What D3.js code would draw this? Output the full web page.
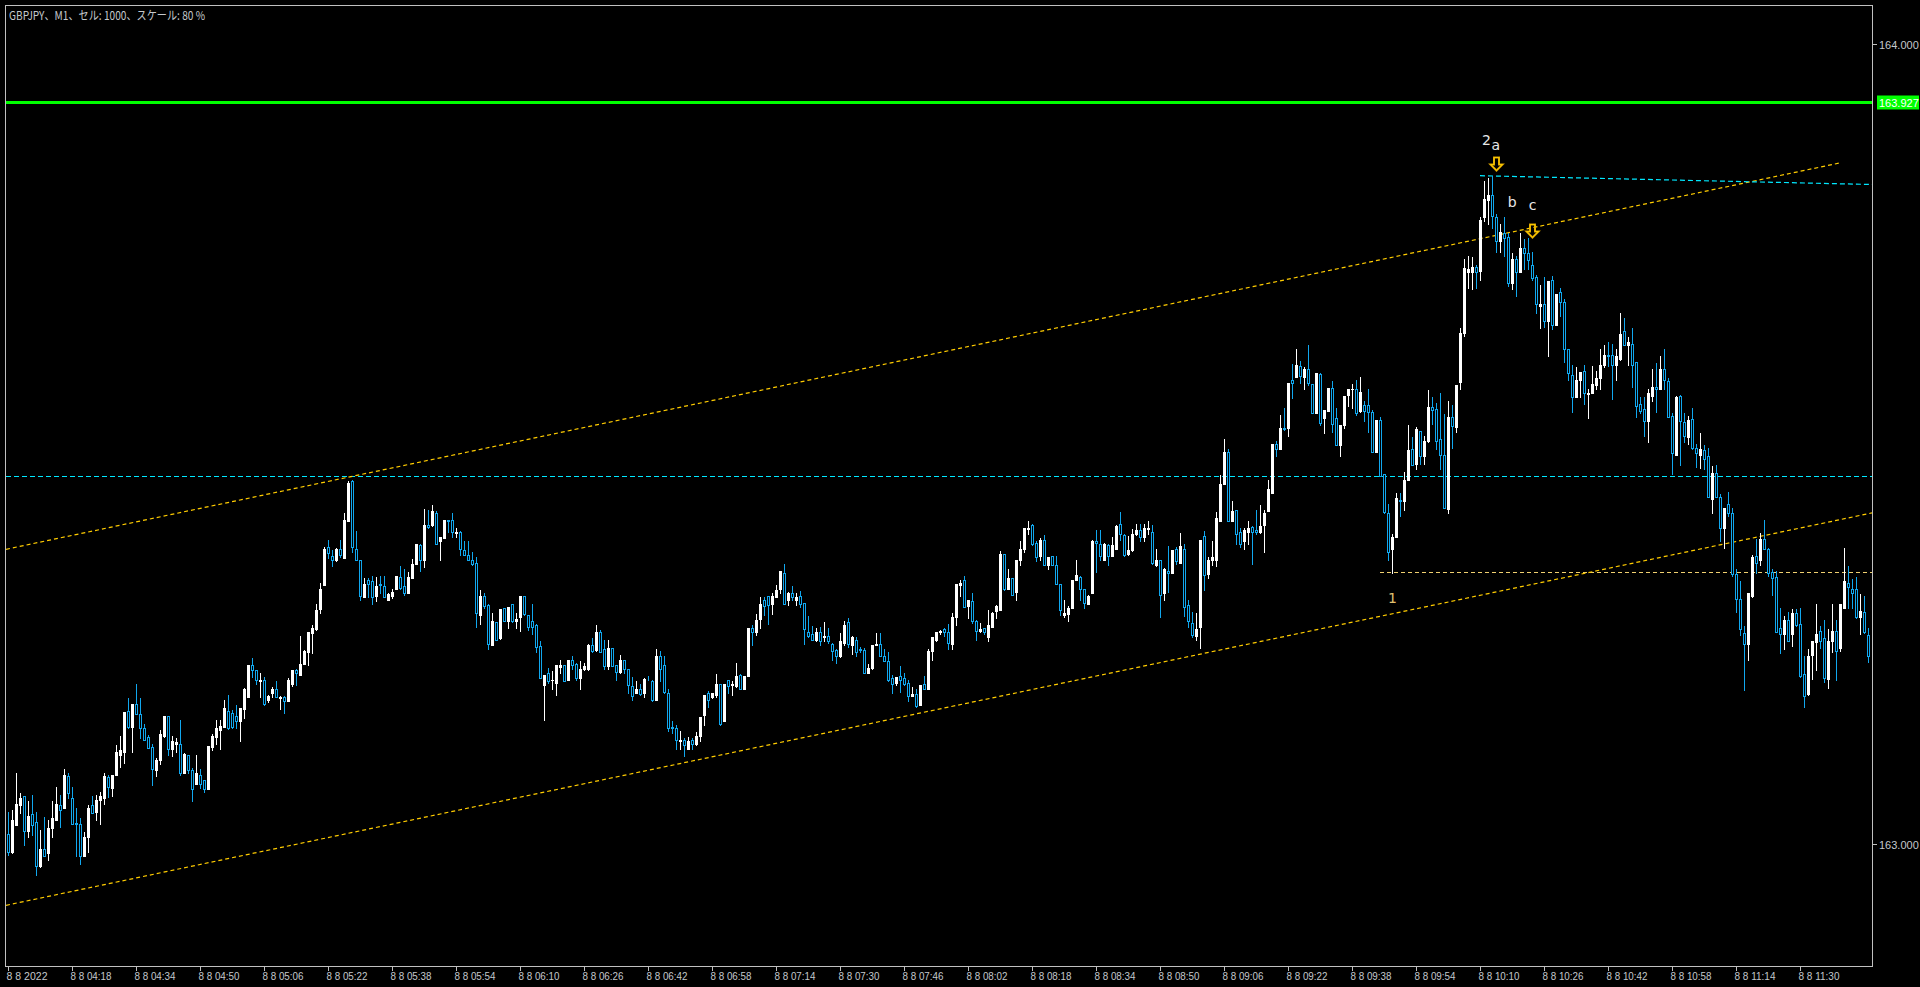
<!DOCTYPE html>
<html><head><meta charset="utf-8">
<script src="https://cdn.jsdelivr.net/npm/d3@7"></script>
<style>
html,body{margin:0;padding:0;background:#000;overflow:hidden;}
svg{display:block;}
</style></head><body>
<svg id="chart" width="1920" height="987"></svg>
<script>
// ---- DATA (GBPJPY M1, 8 Aug 2022, from 04:02, one bar per minute) ----
const opens=[163.012,162.989,163.023,163.048,163.060,163.016,163.037,163.027,162.972,162.993,
162.988,163.019,163.030,163.048,163.044,163.085,163.057,163.026,163.025,162.984,
163.009,163.048,163.040,163.054,163.057,163.083,163.070,163.086,163.111,163.115,
163.166,163.146,163.175,163.162,163.144,163.133,163.121,163.092,163.104,163.135,
163.160,163.118,163.125,163.125,163.088,163.111,163.092,163.075,163.086,163.079,
163.069,163.121,163.133,163.142,163.146,163.166,163.163,163.160,163.153,163.168,
163.184,163.224,163.217,163.203,163.205,163.179,163.189,163.194,163.182,163.184,
163.178,163.200,163.217,163.211,163.225,163.240,163.263,163.268,163.293,163.323,
163.371,163.360,163.354,163.368,163.357,163.404,163.453,163.368,163.354,163.309,
163.330,163.328,163.310,163.325,163.322,163.304,163.310,163.319,163.333,163.322,
163.314,163.332,163.350,163.373,163.354,163.398,163.398,163.413,163.378,163.382,
163.405,163.405,163.388,163.389,163.367,163.361,163.354,163.351,163.286,163.310,
163.298,163.248,163.277,163.257,163.294,163.278,163.300,163.279,163.283,163.310,
163.286,163.278,163.273,163.247,163.198,163.213,163.204,163.201,163.221,163.223,
163.205,163.230,163.225,163.207,163.218,163.218,163.249,163.242,163.265,163.244,
163.222,163.245,163.223,163.215,163.230,163.219,163.197,163.188,163.194,163.188,
163.205,163.203,163.180,163.235,163.223,163.189,163.146,163.144,163.129,163.130,
163.119,163.130,163.125,163.135,163.161,163.188,163.183,163.186,163.200,163.153,
163.205,163.198,163.197,163.211,163.193,163.209,163.270,163.265,163.281,163.305,
163.310,163.300,163.309,163.319,163.339,163.305,163.314,163.305,163.310,163.301,
163.265,163.262,163.255,163.264,163.259,163.260,163.250,163.242,163.234,163.251,
163.277,163.248,163.255,163.244,163.242,163.214,163.220,163.248,163.250,163.234,
163.228,163.207,163.201,163.210,163.207,163.201,163.185,163.187,163.173,163.200,
163.194,163.241,163.255,163.265,163.268,163.265,163.250,163.283,163.323,163.329,
163.297,163.303,163.279,163.266,163.269,163.259,163.271,163.291,163.292,163.362,
163.319,163.332,163.315,163.355,163.369,163.393,163.398,163.376,163.359,163.380,
163.348,163.359,163.348,163.325,163.286,163.287,163.294,163.330,163.333,163.318,
163.300,163.314,163.378,163.375,163.355,163.373,163.360,163.369,163.400,163.386,
163.362,163.367,163.387,163.392,163.383,163.393,163.390,163.348,163.354,163.313,
163.341,163.339,163.368,163.351,163.369,163.298,163.276,163.260,163.271,163.385,
163.337,163.354,163.355,163.404,163.450,163.489,163.404,163.417,163.390,163.379,
163.389,163.396,163.392,163.390,163.398,163.416,163.439,163.500,163.494,163.520,
163.520,163.580,163.583,163.597,163.583,163.594,163.575,163.539,163.587,163.532,
163.541,163.570,163.532,163.498,163.523,163.561,163.568,163.569,163.541,163.548,
163.548,163.540,163.490,163.530,163.462,163.414,163.368,163.383,163.430,163.428,
163.454,163.494,163.475,163.516,163.485,163.503,163.546,163.543,163.506,163.486,
163.418,163.534,163.521,163.577,163.638,163.715,163.715,163.721,163.716,163.783,
163.805,163.811,163.784,163.753,163.763,163.759,163.701,163.731,163.715,163.745,
163.738,163.724,163.708,163.672,163.674,163.654,163.704,163.648,163.690,163.677,
163.619,163.586,163.558,163.579,163.591,163.562,163.564,163.573,163.582,163.598,
163.611,163.611,163.599,163.606,163.641,163.623,163.625,163.602,163.549,163.543,
163.528,163.560,163.571,163.569,163.593,163.578,163.535,163.486,163.560,163.527,
163.509,163.531,163.495,163.486,163.492,163.484,163.431,163.464,163.433,163.394,
163.424,163.414,163.337,163.306,163.263,163.250,163.310,163.360,163.354,163.381,
163.369,163.340,163.333,163.270,163.262,163.280,163.262,163.288,163.275,163.212,
163.187,163.236,163.252,163.266,163.257,163.206,163.254,163.266,163.245,163.294,
163.326,163.318,163.318,163.284,163.290,163.261];
const highs=[163.040,163.042,163.088,163.063,163.060,163.053,163.061,163.040,163.017,163.034,
163.030,163.053,163.071,163.061,163.094,163.088,163.071,163.044,163.032,163.014,
163.048,163.060,163.061,163.065,163.089,163.086,163.086,163.123,163.135,163.165,
163.182,163.175,163.200,163.182,163.150,163.136,163.125,163.107,163.142,163.160,
163.160,163.135,163.132,163.155,163.113,163.111,163.095,163.111,163.094,163.080,
163.122,163.137,163.155,163.155,163.180,163.186,163.167,163.173,163.169,163.195,
163.223,163.232,163.217,163.213,163.208,163.186,163.196,163.203,163.185,163.185,
163.207,163.217,163.218,163.260,163.242,163.265,163.273,163.300,163.326,163.371,
163.380,163.367,163.370,163.380,163.414,163.453,163.455,163.391,163.354,163.332,
163.332,163.334,163.333,163.334,163.334,163.313,163.319,163.335,163.347,163.343,
163.340,163.356,163.375,163.375,163.418,163.417,163.423,163.416,163.384,163.405,
163.405,163.413,163.395,163.391,163.378,163.378,163.365,163.358,163.317,163.313,
163.300,163.288,163.277,163.293,163.294,163.296,163.300,163.288,163.310,163.310,
163.286,163.300,163.275,163.253,163.211,163.220,163.216,163.223,163.230,163.223,
163.230,163.234,163.226,163.228,163.226,163.250,163.257,163.273,163.267,163.255,
163.255,163.245,163.223,163.236,163.230,163.219,163.208,163.203,163.200,163.207,
163.210,163.205,163.243,163.241,163.235,163.193,163.153,163.148,163.141,163.132,
163.134,163.132,163.139,163.159,163.186,163.191,163.189,163.212,163.200,163.200,
163.205,163.203,163.226,163.212,163.210,163.269,163.273,163.287,163.309,163.309,
163.310,163.314,163.323,163.341,163.350,163.315,163.322,163.313,163.316,163.301,
163.285,163.272,163.269,163.271,163.277,163.269,163.251,163.244,163.263,163.279,
163.282,163.260,163.259,163.246,163.245,163.225,163.248,163.263,163.263,163.244,
163.239,163.211,163.208,163.222,163.213,163.204,163.196,163.194,163.198,163.210,
163.243,163.258,163.264,163.267,163.270,163.275,163.288,163.325,163.329,163.335,
163.305,163.314,163.280,163.276,163.269,163.292,163.290,163.298,163.366,163.362,
163.343,163.332,163.355,163.378,163.394,163.403,163.400,163.378,163.382,163.386,
163.358,163.359,163.360,163.325,163.305,163.297,163.329,163.354,163.334,163.318,
163.311,163.380,163.392,163.392,163.376,163.375,163.383,163.398,163.415,163.387,
163.385,163.393,163.400,163.399,163.399,163.403,163.398,163.369,163.355,163.345,
163.372,163.367,163.371,163.388,163.375,163.305,163.290,163.288,163.380,163.391,
163.358,163.378,163.415,163.461,163.506,163.493,163.428,163.417,163.395,163.395,
163.403,163.397,163.417,163.423,163.417,163.455,163.500,163.503,163.536,163.544,
163.576,163.600,163.619,163.603,163.596,163.623,163.575,163.588,163.589,163.542,
163.570,163.578,163.544,163.523,163.560,163.569,163.575,163.580,163.583,163.553,
163.569,163.542,163.530,163.533,163.462,163.425,163.387,163.439,163.439,163.465,
163.523,163.509,163.521,163.516,163.510,163.567,163.559,163.551,163.564,163.537,
163.553,163.548,163.573,163.644,163.731,163.734,163.733,163.724,163.783,163.828,
163.832,163.835,163.787,163.775,163.784,163.763,163.738,163.734,163.763,163.756,
163.757,163.739,163.711,163.698,163.708,163.703,163.710,163.687,163.695,163.681,
163.619,163.598,163.596,163.590,163.598,163.569,163.597,163.591,163.618,163.623,
163.627,163.625,163.618,163.664,163.657,163.634,163.645,163.602,163.558,163.558,
163.569,163.593,163.601,163.609,163.618,163.582,163.538,163.560,163.561,163.538,
163.535,163.544,163.500,163.513,163.498,163.495,163.472,163.474,163.437,163.419,
163.440,163.419,163.344,163.328,163.272,163.314,163.361,163.381,163.388,163.405,
163.370,163.344,163.341,163.294,163.285,163.290,163.293,163.293,163.294,163.234,
163.243,163.254,163.299,163.272,163.280,163.268,163.299,163.280,163.299,163.370,
163.347,163.331,163.333,163.312,163.310,163.270];
const lows=[162.986,162.988,163.023,163.038,162.998,163.009,163.011,162.961,162.971,162.984,
162.980,163.009,163.030,163.021,163.044,163.057,163.025,162.984,162.975,162.984,
162.990,163.038,163.030,163.025,163.050,163.059,163.060,163.086,163.096,163.101,
163.145,163.115,163.162,163.132,163.130,163.120,163.073,163.084,163.100,163.134,
163.111,163.109,163.115,163.086,163.088,163.088,163.053,163.075,163.070,163.065,
163.069,163.117,163.125,163.118,163.146,163.143,163.145,163.145,163.129,163.157,
163.184,163.208,163.200,163.184,163.173,163.177,163.184,163.184,163.168,163.163,
163.178,163.197,163.198,163.211,163.225,163.224,163.238,163.267,163.289,163.323,
163.357,163.347,163.353,163.358,163.357,163.404,163.365,163.355,163.305,163.308,
163.309,163.300,163.303,163.313,163.308,163.304,163.307,163.319,163.319,163.311,
163.314,163.332,163.350,163.341,163.346,163.395,163.397,163.375,163.355,163.382,
163.389,163.384,163.384,163.361,163.361,163.354,163.348,163.271,163.275,163.294,
163.243,163.248,163.255,163.256,163.279,163.270,163.277,163.269,163.266,163.286,
163.267,163.262,163.240,163.207,163.155,163.201,163.193,163.186,163.213,163.203,
163.205,163.219,163.205,163.193,163.217,163.217,163.240,163.241,163.239,163.219,
163.219,163.222,163.205,163.214,163.213,163.188,163.180,163.188,163.186,163.184,
163.204,163.178,163.180,163.203,163.188,163.141,163.138,163.118,163.118,163.109,
163.118,163.118,163.123,163.128,163.148,163.171,163.182,163.184,163.148,163.153,
163.189,163.186,163.196,163.193,163.193,163.209,163.248,163.261,163.269,163.286,
163.275,163.287,163.309,163.313,163.300,163.298,163.305,163.298,163.296,163.250,
163.259,163.255,163.254,163.248,163.253,163.251,163.230,163.226,163.233,163.248,
163.246,163.237,163.235,163.240,163.213,163.213,163.219,163.248,163.234,163.228,
163.203,163.189,163.198,163.190,163.198,163.178,163.185,163.171,163.173,163.193,
163.194,163.229,163.253,163.262,163.260,163.243,163.243,163.273,163.310,163.296,
163.282,163.276,163.255,163.265,163.262,163.253,163.271,163.282,163.292,163.317,
163.318,163.311,163.304,163.348,163.365,163.387,163.373,163.353,163.355,163.348,
163.343,163.348,163.325,163.286,163.284,163.278,163.294,163.330,163.305,163.294,
163.300,163.314,163.340,163.354,163.354,163.348,163.360,163.368,163.380,163.360,
163.361,163.366,163.386,163.378,163.378,163.387,163.350,163.347,163.284,163.304,
163.315,163.339,163.350,163.351,163.285,163.271,163.259,163.255,163.245,163.317,
163.332,163.348,163.347,163.404,163.450,163.404,163.404,163.375,163.371,163.369,
163.375,163.350,163.387,163.388,163.365,163.416,163.439,163.484,163.494,163.517,
163.510,163.557,163.583,163.576,163.569,163.573,163.539,163.539,163.523,163.513,
163.541,163.515,163.498,163.485,163.519,163.547,163.545,163.536,163.540,163.529,
163.515,163.490,163.490,163.459,163.414,163.355,163.339,163.383,163.410,163.417,
163.454,163.473,163.469,163.475,163.475,163.502,163.524,163.494,163.468,163.419,
163.413,163.495,163.514,163.569,163.635,163.695,163.694,163.695,163.704,163.779,
163.774,163.770,163.739,163.739,163.735,163.697,163.694,163.685,163.715,163.718,
163.718,163.705,163.664,163.645,163.646,163.609,163.643,163.648,163.660,163.602,
163.580,163.540,163.558,163.558,163.550,163.532,163.564,163.569,163.569,163.596,
163.597,163.556,163.579,163.604,163.623,163.599,163.571,163.534,163.538,163.510,
163.502,163.553,163.540,163.569,163.569,163.533,163.462,163.486,163.474,163.502,
163.500,163.494,163.471,163.470,163.468,163.433,163.414,163.433,163.378,163.370,
163.410,163.335,163.290,163.261,163.192,163.230,163.308,163.339,163.348,163.368,
163.335,163.311,163.264,163.238,163.243,163.254,163.247,163.272,163.208,163.171,
163.186,163.206,163.217,163.245,163.202,163.195,163.239,163.205,163.241,163.294,
163.294,163.294,163.282,163.262,163.263,163.227];
const closes=[162.989,163.030,163.050,163.057,163.016,163.035,163.023,162.972,162.994,162.984,
163.019,163.032,163.050,163.042,163.086,163.063,163.025,163.025,162.984,163.009,
163.044,163.039,163.055,163.060,163.085,163.071,163.086,163.114,163.117,163.165,
163.146,163.175,163.162,163.144,163.130,163.120,163.093,163.105,163.137,163.160,
163.119,163.128,163.127,163.088,163.112,163.092,163.069,163.088,163.075,163.069,
163.122,163.135,163.144,163.147,163.170,163.145,163.146,163.153,163.169,163.194,
163.223,163.217,163.205,163.205,163.175,163.185,163.194,163.184,163.184,163.178,
163.205,163.217,163.214,163.225,163.241,163.264,163.269,163.292,163.319,163.369,
163.363,163.354,163.369,163.361,163.405,163.451,163.371,163.355,163.310,163.325,
163.325,163.308,163.322,163.323,163.308,163.312,163.315,163.334,163.320,163.314,
163.333,163.350,163.375,163.354,163.398,163.396,163.416,163.375,163.383,163.405,
163.404,163.389,163.390,163.368,163.361,163.355,163.350,163.289,163.310,163.297,
163.250,163.278,163.255,163.293,163.279,163.296,163.278,163.281,163.310,163.287,
163.271,163.271,163.246,163.207,163.211,163.203,163.205,163.223,163.223,163.203,
163.230,163.224,163.207,163.219,163.222,163.248,163.241,163.264,163.239,163.222,
163.245,163.222,163.215,163.230,163.219,163.198,163.185,163.194,163.187,163.206,
163.204,163.180,163.235,163.219,163.190,163.144,163.144,163.130,163.130,163.123,
163.128,163.125,163.135,163.158,163.186,163.180,163.189,163.200,163.149,163.200,
163.197,163.200,163.210,163.193,163.210,163.269,163.265,163.280,163.300,163.297,
163.298,163.310,163.317,163.341,163.300,163.314,163.308,163.308,163.300,163.268,
163.260,163.255,163.264,163.254,163.260,163.253,163.241,163.234,163.253,163.273,
163.250,163.258,163.239,163.242,163.214,163.220,163.248,163.250,163.235,163.228,
163.204,163.200,163.208,163.204,163.200,163.185,163.187,163.172,163.198,163.194,
163.241,163.258,163.264,163.266,163.264,163.251,163.284,163.325,163.326,163.296,
163.304,163.278,163.266,163.268,163.264,163.273,163.289,163.297,163.362,163.318,
163.332,163.311,163.355,163.369,163.394,163.395,163.375,163.358,163.380,163.348,
163.358,163.348,163.325,163.292,163.288,163.294,163.329,163.336,163.319,163.301,
163.310,163.379,163.376,163.359,163.375,163.360,163.373,163.397,163.387,163.361,
163.367,163.387,163.392,163.383,163.394,163.394,163.351,163.355,163.311,163.344,
163.338,163.367,163.353,163.372,163.296,163.279,163.261,163.268,163.380,163.336,
163.355,163.358,163.407,163.450,163.489,163.404,163.416,163.387,163.375,163.392,
163.394,163.389,163.389,163.397,163.413,163.444,163.500,163.493,163.519,163.518,
163.576,163.576,163.598,163.584,163.594,163.576,163.539,163.588,163.526,163.542,
163.570,163.525,163.498,163.523,163.560,163.569,163.569,163.539,163.565,163.541,
163.540,163.490,163.530,163.460,163.415,163.365,163.384,163.432,163.428,163.455,
163.492,163.474,163.518,163.485,163.503,163.546,163.542,163.504,163.486,163.419,
163.534,163.522,163.573,163.638,163.720,163.718,163.721,163.715,163.780,163.806,
163.811,163.785,163.754,163.764,163.757,163.701,163.731,163.715,163.745,163.738,
163.729,163.707,163.675,163.675,163.654,163.703,163.648,163.687,163.677,163.619,
163.588,163.558,163.580,163.590,163.564,163.564,163.574,163.582,163.598,163.611,
163.609,163.599,163.610,163.637,163.623,163.627,163.598,163.547,163.541,163.528,
163.564,163.571,163.569,163.593,163.579,163.534,163.488,163.559,163.529,163.510,
163.530,163.495,163.488,163.493,163.481,163.433,163.464,163.433,163.394,163.419,
163.414,163.337,163.306,163.268,163.250,163.314,163.358,163.351,163.381,163.369,
163.339,163.332,163.264,163.262,163.280,163.254,163.289,163.273,163.210,163.185,
163.235,163.253,163.262,163.254,163.207,163.254,163.266,163.241,163.299,163.328,
163.321,163.314,163.284,163.291,163.264,163.234];

const title = "GBPJPY、M1、セル: 1000、スケール: 80 %";
const barsPerTimeLabel = 16;
const timeLabels=["8 8 2022","8 8 04:18","8 8 04:34","8 8 04:50","8 8 05:06","8 8 05:22","8 8 05:38","8 8 05:54",
"8 8 06:10","8 8 06:26","8 8 06:42","8 8 06:58","8 8 07:14","8 8 07:30","8 8 07:46","8 8 08:02","8 8 08:18",
"8 8 08:34","8 8 08:50","8 8 09:06","8 8 09:22","8 8 09:38","8 8 09:54","8 8 10:10","8 8 10:26","8 8 10:42",
"8 8 10:58","8 8 11:14","8 8 11:30"];
const priceTicks=[163.000,164.000];
const currentPrice=163.927;
const cyanLevel=163.460;
const supportLevel=163.340, supportStartBar=343;
const upperChannel=[[-0.5,163.368],[458,163.851]];
const lowerChannel=[[-0.5,162.923],[466,163.4135]];
const topTrend=[[368,163.835],[466,163.824]];
const waveLabels=[
 {t:"2",bar:369.5,price:163.880,color:"#e8e8e8"},
 {t:"a",bar:371.8,price:163.874,color:"#e8e8e8"},
 {t:"b",bar:375.9,price:163.802,color:"#e8e8e8"},
 {t:"c",bar:381.0,price:163.798,color:"#e8e8e8"},
 {t:"1",bar:346.0,price:163.307,color:"#e0c070"}];
const arrows=[{bar:372,price:163.858},{bar:381,price:163.775}];

// ---- LAYOUT ----
const W=1920,H=987;
const plot={l:6,t:6,r:1872,b:966};
const N=opens.length;
const x=d3.scaleLinear().domain([0,1]).range([8,12]);
const y=d3.scaleLinear().domain([163,164]).range([843.7,43.7]);
const BULL="#ffffff", BEAR="#11a7ee", AXIS="#c4c8cc", GRID="#c0c0c0";

const svg=d3.select("#chart");
svg.append("rect").attr("width",W).attr("height",H).attr("fill","#000");
svg.append("defs").append("clipPath").attr("id","clip").append("rect")
  .attr("x",plot.l).attr("y",plot.t).attr("width",plot.r-plot.l).attr("height",plot.b-plot.t);
const g=svg.append("g").attr("clip-path","url(#clip)");

// horizontal lines
g.append("line").attr("x1",plot.l).attr("x2",plot.r)
 .attr("y1",Math.round(y(currentPrice))+0.5).attr("y2",Math.round(y(currentPrice))+0.5)
 .attr("stroke","#00ff00").attr("stroke-width",3);
g.append("line").attr("x1",plot.l).attr("x2",plot.r)
 .attr("y1",Math.round(y(cyanLevel))+0.5).attr("y2",Math.round(y(cyanLevel))+0.5)
 .attr("stroke","#00e8ff").attr("stroke-width",1.2).attr("stroke-dasharray","5,3");
g.append("line").attr("x1",x(supportStartBar)).attr("x2",plot.r)
 .attr("y1",Math.round(y(supportLevel))+0.5).attr("y2",Math.round(y(supportLevel))+0.5)
 .attr("stroke","#f0d070").attr("stroke-width",1).attr("stroke-dasharray","4,3");

const line=d3.line().x(d=>x(d[0])).y(d=>y(d[1]));
[upperChannel,lowerChannel].forEach(pts=>{
  g.append("path").attr("d",line(pts)).attr("fill","none")
   .attr("stroke","#ffcc00").attr("stroke-width",1.2).attr("stroke-dasharray","4,3");
});
g.append("path").attr("d",line(topTrend)).attr("fill","none")
 .attr("stroke","#00e8ff").attr("stroke-width",1.2).attr("stroke-dasharray","5,3");

// candles
const candles=d3.range(N).map(i=>({i,o:opens[i],h:highs[i],l:lows[i],c:closes[i]}));
const cg=g.append("g").attr("shape-rendering","crispEdges");
const cs=cg.selectAll("g.c").data(candles).join("g");
cs.append("line")
 .attr("x1",d=>x(d.i)+0.5).attr("x2",d=>x(d.i)+0.5)
 .attr("y1",d=>Math.round(y(d.h))).attr("y2",d=>Math.round(y(d.l))+1)
 .attr("stroke",d=>d.c>=d.o?BULL:BEAR).attr("stroke-width",1);
cs.each(function(d){
  const sel=d3.select(this);
  const yt=Math.round(y(Math.max(d.o,d.c))), yb=Math.round(y(Math.min(d.o,d.c)));
  if(d.c>=d.o){
    sel.append("rect").attr("x",x(d.i)-1).attr("y",yt).attr("width",3).attr("height",Math.max(1,yb-yt+1)).attr("fill",BULL);
  } else {
    sel.append("rect").attr("x",x(d.i)-0.5).attr("y",yt+0.5).attr("width",2).attr("height",Math.max(0,yb-yt))
     .attr("fill","#000").attr("stroke",BEAR).attr("stroke-width",1);
  }
});

// arrows (hollow down arrows)
arrows.forEach(a=>{
  const cx=x(a.bar)+0.5, t=Math.round(y(a.price))+0.5;
  const p=`M${cx-2.5},${t} L${cx+2.5},${t} L${cx+2.5},${t+7} L${cx+6},${t+7} L${cx},${t+13} L${cx-6},${t+7} L${cx-2.5},${t+7} Z`;
  g.append("path").attr("d",p).attr("fill","none").attr("stroke","#d8a000").attr("stroke-width",2);
  g.append("path").attr("d",p).attr("fill","none").attr("stroke","#ffd000").attr("stroke-width",0.8);
});
// wave labels
g.selectAll("text.w").data(waveLabels).join("text")
 .attr("x",d=>x(d.bar)+0.5).attr("y",d=>y(d.price))
 .attr("text-anchor","middle").attr("dominant-baseline","central")
 .attr("font-family","'DejaVu Sans',sans-serif").attr("font-size",14)
 .attr("fill",d=>d.color).text(d=>d.t);

// frame
svg.append("rect").attr("x",5.5).attr("y",5.5).attr("width",plot.r-5).attr("height",plot.b-5)
 .attr("fill","none").attr("stroke",GRID).attr("stroke-width",1);

// right axis
const ax=svg.append("g").attr("font-family","'Liberation Sans',Arial,sans-serif").attr("font-size",11);
priceTicks.forEach(p=>{
  const yy=Math.round(y(p))+0.5;
  ax.append("line").attr("x1",plot.r+1).attr("x2",plot.r+5).attr("y1",yy).attr("y2",yy).attr("stroke",GRID);
  ax.append("text").attr("x",1879).attr("y",yy).attr("dominant-baseline","central").attr("fill",AXIS).text(d3.format(".3f")(p));
});
const cy=Math.round(y(currentPrice))+0.5;
ax.append("rect").attr("x",1877).attr("y",cy-7).attr("width",42).attr("height",14).attr("fill","#00ff00");
ax.append("text").attr("x",1879).attr("y",cy+0.5).attr("dominant-baseline","central").attr("fill","#ffffff").text(d3.format(".3f")(currentPrice));

// bottom axis
timeLabels.forEach((t,k)=>{
  const xx=x(k*barsPerTimeLabel)+0.5;
  ax.append("line").attr("x1",xx).attr("x2",xx).attr("y1",plot.b+1).attr("y2",plot.b+5).attr("stroke",GRID);
  ax.append("text").attr("x",xx-2).attr("y",980).attr("font-size",10.5).attr("fill",AXIS)
    .attr("textLength",41).attr("lengthAdjust","spacingAndGlyphs").text(t);
});

// title
svg.append("text").attr("x",9).attr("y",20).attr("font-family","'Noto Sans CJK JP','Liberation Sans',sans-serif")
 .attr("font-size",12).attr("fill",AXIS).attr("textLength",196).attr("lengthAdjust","spacingAndGlyphs").text(title);
</script>
</body></html>
